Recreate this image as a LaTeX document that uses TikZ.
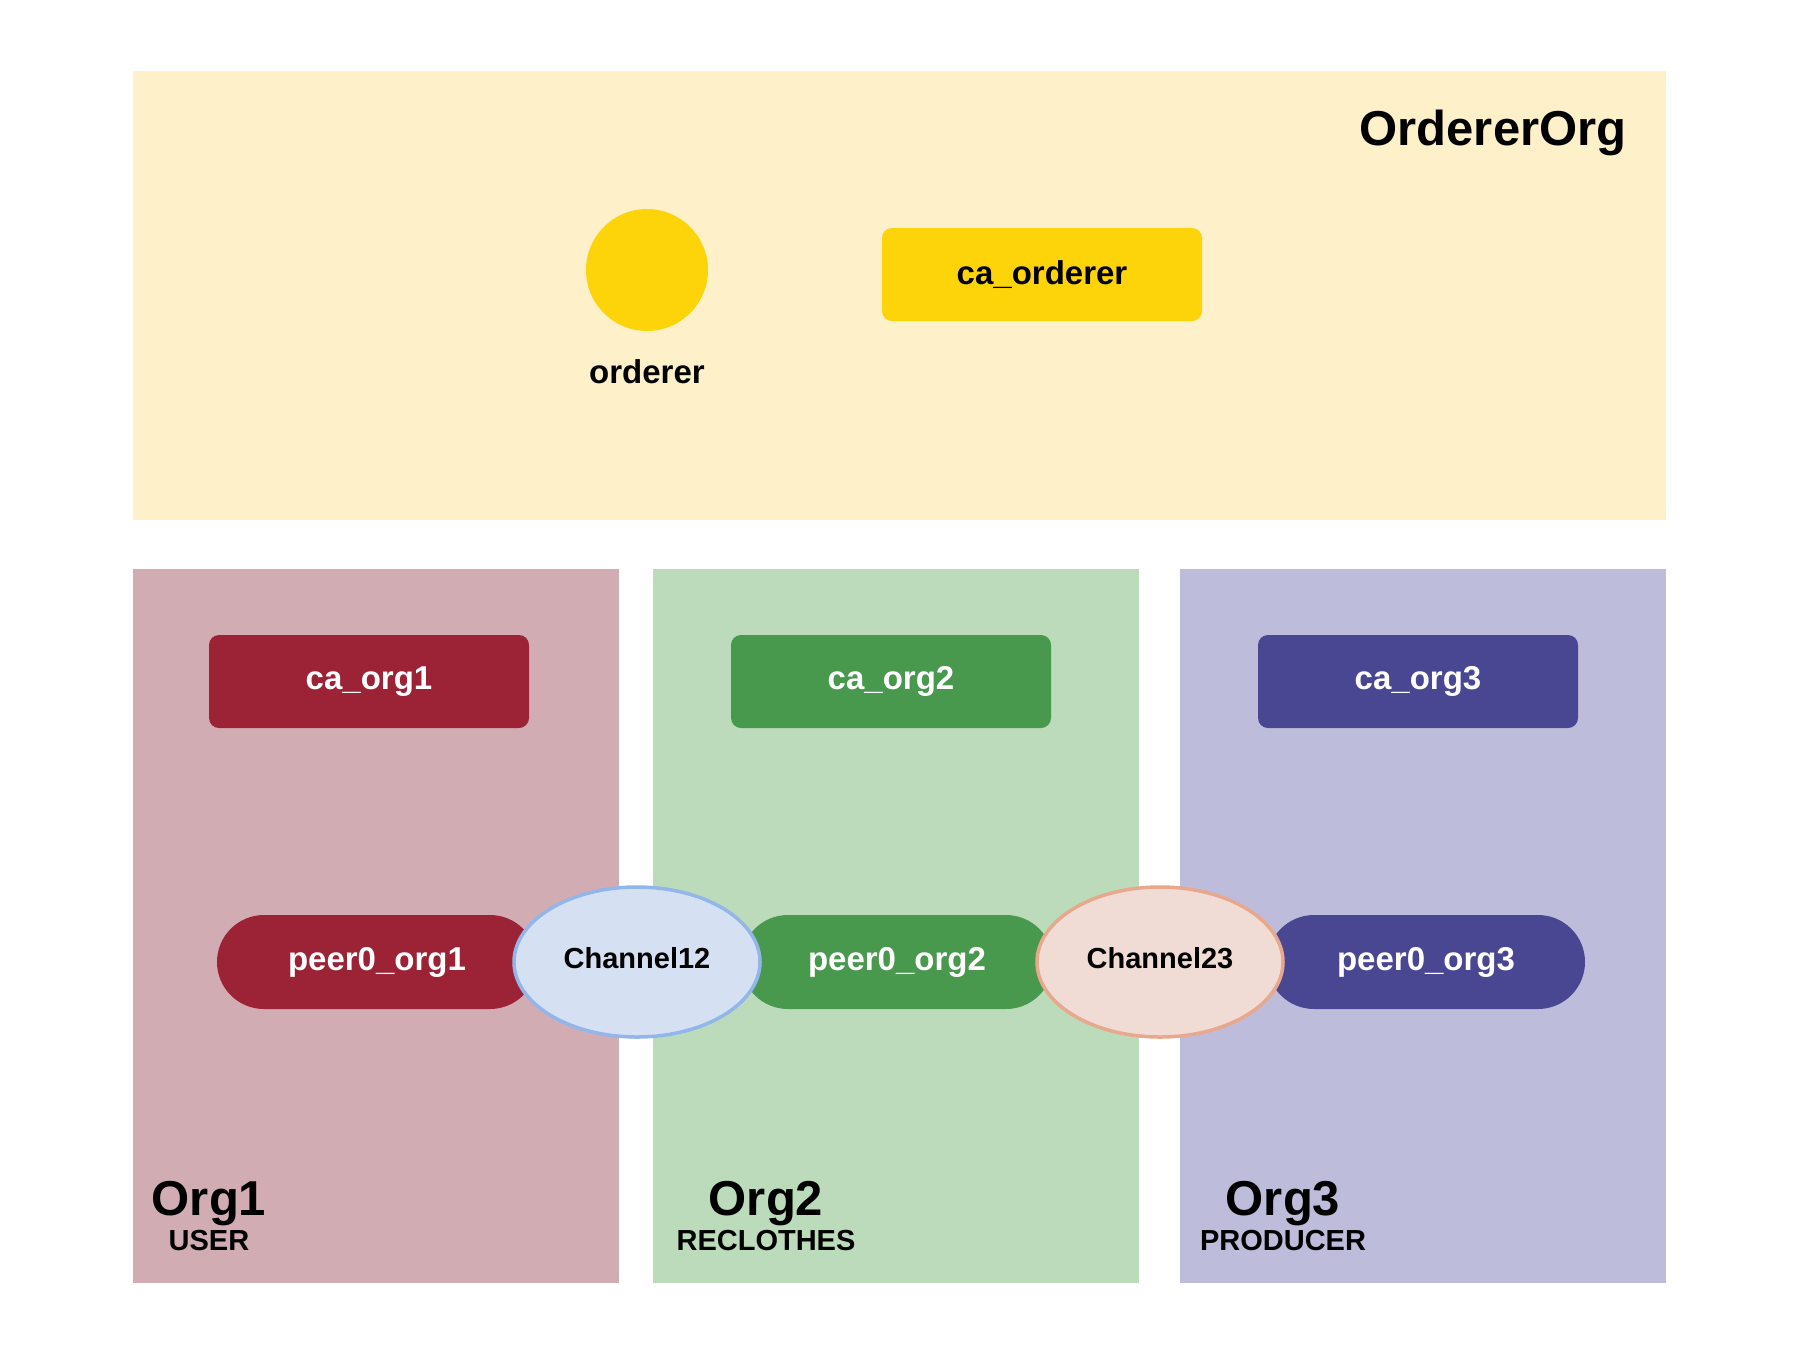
\documentclass[tikz,border=0pt]{standalone}
\usepackage{fontspec}
\setmainfont{Liberation Sans}
\usepackage{xcolor}
\usetikzlibrary{shapes.geometric}
\definecolor{ordbg}{HTML}{FEF0C8}
\definecolor{ordfg}{HTML}{FDD40A}
\definecolor{orgonebg}{HTML}{D1ADB3}
\definecolor{orgonefg}{HTML}{9C2235}
\definecolor{orgtwobg}{HTML}{BCDBBB}
\definecolor{orgtwofg}{HTML}{48984E}
\definecolor{orgthreebg}{HTML}{BDBDDB}
\definecolor{orgthreefg}{HTML}{4A4792}
\definecolor{chonefill}{HTML}{D5E0F2}
\definecolor{choneline}{HTML}{93B6EA}
\definecolor{chtwofill}{HTML}{F0DCD5}
\definecolor{chtwoline}{HTML}{E8A88E}

\begin{document}
\begin{tikzpicture}[
    x=0.5pt, y=-0.5pt,
    orgarea/.style={
      anchor=north west,
      inner sep=0pt,
      minimum width=243pt,
      minimum height=357pt
    },
    cabox/.style={
      rounded corners=5pt,
      minimum width=160pt,
      minimum height=46.5pt,
      font=\bfseries\fontsize{16.5}{19}\selectfont,
      text=white
    },
    peerbox/.style={
      rounded corners=23.5pt,
      minimum width=160pt,
      minimum height=47pt,
      font=\bfseries\fontsize{16.5}{19}\selectfont,
      text=white
    },
    channel/.style={
      ellipse,
      line width=1.75pt,
      minimum width=123pt,
      minimum height=75pt,
      text depth=4.5pt,
      font=\bfseries\fontsize{14.5}{17}\selectfont
    },
    orgtitle/.style={font=\bfseries\fontsize{24.5}{28}\selectfont},
    orgrole/.style={font=\bfseries\fontsize{14.5}{17}\selectfont}
  ]
    \useasboundingbox (0,0) rectangle (1793,1371);

    % organisation areas
    \node[orgarea, fill=ordbg, minimum width=766.5pt, minimum height=224.5pt]
      (ordererorg) at (133,71) {};
    \node[orgarea, fill=orgonebg] (org1) at (133,569) {};
    \node[orgarea, fill=orgtwobg] (org2) at (653,569) {};
    \node[orgarea, fill=orgthreebg] (org3) at (1180,569) {};

    % orderer organisation
    \node[orgtitle] (ordtitle) at (1493,133) {OrdererOrg};
    \node[circle, fill=ordfg, minimum size=61pt, inner sep=0pt] (orderer) at (647,270) {};
    \node[font=\bfseries\fontsize{16.5}{19}\selectfont] (ordlabel) at (647,372) {orderer};
    \node[cabox, fill=ordfg, text=black] (caorderer) at (1042,274.5) {ca\_orderer};

    % certificate authorities
    \node[cabox, fill=orgonefg] (caorg1) at (369,681.5) {ca\_org1};
    \node[cabox, fill=orgtwofg] (caorg2) at (891,681.5) {ca\_org2};
    \node[cabox, fill=orgthreefg] (caorg3) at (1418,681.5) {ca\_org3};

    % peers
    \node[peerbox, fill=orgonefg] (peer1) at (377,962) {peer0\_org1};
    \node[peerbox, fill=orgtwofg, minimum width=156pt] (peer2) at (897,962) {peer0\_org2};
    \node[peerbox, fill=orgthreefg, minimum width=159pt] (peer3) at (1426,962) {peer0\_org3};

    % channels
    \node[channel, draw=choneline, fill=chonefill] (ch12) at (637,962) {Channel12};
    \node[channel, draw=chtwoline, fill=chtwofill] (ch23) at (1160,962) {Channel23};

    % organisation labels
    \node[orgtitle] (org1title) at (209,1204) {Org1};
    \node[orgrole] (org1role) at (209,1240) {USER};
    \node[orgtitle] (org2title) at (766,1204) {Org2};
    \node[orgrole] (org2role) at (766,1240) {RECLOTHES};
    \node[orgtitle] (org3title) at (1283,1204) {Org3};
    \node[orgrole] (org3role) at (1283,1240) {PRODUCER};
  \end{tikzpicture}
\end{document}
